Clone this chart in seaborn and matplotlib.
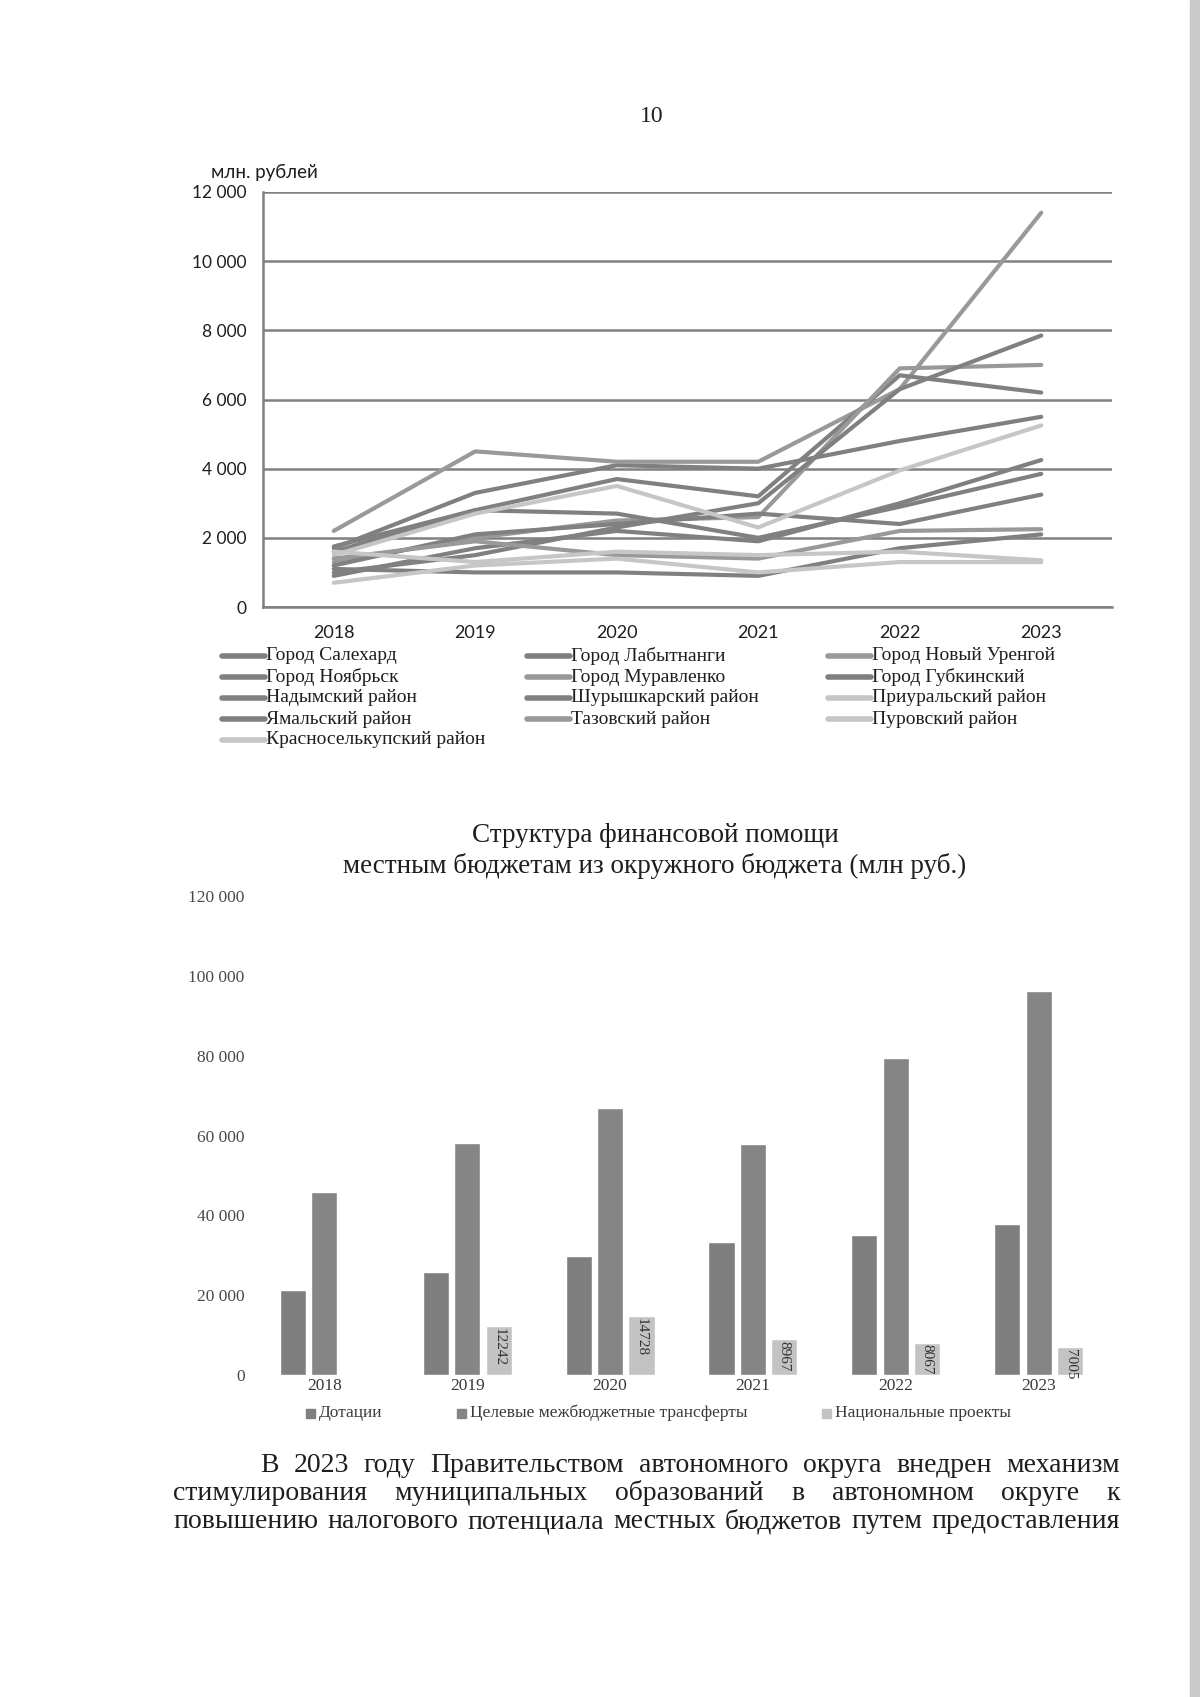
import matplotlib
matplotlib.use('Agg')
import pandas as pd
import seaborn as sns
import matplotlib.pyplot as plt
from matplotlib.lines import Line2D
from matplotlib.patches import Rectangle

W, H = 1200, 1697

# ---- данные: верхний график (млн. рублей) ----
years = ['2018', '2019', '2020', '2021', '2022', '2023']

districts = ['Город Салехард', 'Город Лабытнанги', 'Город Новый Уренгой',
             'Город Ноябрьск', 'Город Муравленко', 'Город Губкинский',
             'Надымский район', 'Шурышкарский район', 'Приуральский район',
             'Ямальский район', 'Тазовский район', 'Пуровский район',
             'Красноселькупский район']

salekhard = [1700, 3300, 4100, 4000, 4800, 5500]
labytnangi = [1100, 1000, 1000, 900, 1700, 2100]
novy_urengoy = [2200, 4500, 4200, 4200, 6300, 11400]
noyabrsk = [1600, 2800, 3700, 3200, 6700, 6200]
muravlenko = [1300, 2000, 2500, 2600, 6900, 7000]
gubkinsky = [1000, 1500, 2300, 3000, 6300, 7850]
nadym = [1750, 2800, 2700, 2000, 2900, 3850]
shuryshkary = [1200, 2100, 2400, 2700, 2400, 3250]
priuralsky = [1500, 2700, 3500, 2300, 3950, 5250]
yamalsky = [900, 1700, 2200, 1900, 3000, 4250]
tazovsky = [1400, 1900, 1500, 1400, 2200, 2250]
purovsky = [1600, 1300, 1600, 1500, 1600, 1350]
krasnoselkup = [700, 1200, 1400, 1000, 1300, 1300]

series = [salekhard, labytnangi, novy_urengoy, noyabrsk, muravlenko, gubkinsky,
          nadym, shuryshkary, priuralsky, yamalsky, tazovsky, purovsky, krasnoselkup]

# ---- данные: нижний график (млн руб.) ----
bar_types = ['Дотации', 'Целевые межбюджетные трансферты', 'Национальные проекты']
dotacii = [21200, 25900, 29700, 33200, 35000, 37900]
celevye = [45900, 58100, 66800, 57800, 79500, 96300]
nac_years = ['2019', '2020', '2021', '2022', '2023']
nac_proekty = [12242, 14728, 8967, 8067, 7005]

paragraph = [
    'В 2023 году Правительством автономного округа внедрен механизм',
    'стимулирования муниципальных образований в автономном округе к',
    'повышению налогового потенциала местных бюджетов путем предоставления',
]

DARK = '#808080'
MID = '#999999'
LIGHT = '#c6c6c6'
line_colors = [DARK, DARK, MID, DARK, MID, DARK, DARK, DARK, LIGHT, DARK, MID, LIGHT, LIGHT]
SERIF = ['Liberation Serif', 'DejaVu Serif']
SANS = ['Lato', 'DejaVu Sans']
TXT = '#1e1e1e'


def fx(x):
    return x / W


def fy(y):
    return 1 - y / H


def fmt(v):
    return f'{int(v):,}'.replace(',', ' ')


sns.set_style('white')
plt.rcParams['font.family'] = SERIF

fig = plt.figure(figsize=(W / 100, H / 100), dpi=100)

# ---- верхний график ----
rows = []
for name, vals in zip(districts, series):
    for y, v in zip(years, vals):
        rows.append({'year': y, 'value': v, 'district': name})
df_lines = pd.DataFrame(rows)
palette = dict(zip(districts, line_colors))

ax1 = fig.add_axes([fx(263), fy(607), (1112 - 263) / W, (607 - 192) / H])
ax1.set_axisbelow(True)
sns.lineplot(data=df_lines, x='year', y='value', hue='district', hue_order=districts,
             palette=palette, linewidth=3.0, legend=False, sort=False, ax=ax1)
ax1.set_xlim(-0.5, 5.5)
ax1.set_ylim(0, 12000)
ax1.set_yticks(range(0, 12001, 2000))
ax1.set_yticklabels([fmt(v) for v in range(0, 12001, 2000)], family=SANS, fontsize=12.5, color=TXT)
ax1.set_xticks(range(6))
ax1.set_xticklabels(years, family=SANS, fontsize=13, color=TXT)
ax1.set_xticks([i - 0.5 for i in range(7)], minor=True)
ax1.tick_params(axis='x', which='major', length=0, pad=13)
ax1.tick_params(axis='x', which='minor', length=5, color=DARK, width=1.2)
ax1.tick_params(axis='y', length=5, color=DARK, width=1.2, pad=7)
ax1.yaxis.grid(True, color=DARK, linewidth=1.8)
ax1.set_xlabel('')
ax1.set_ylabel('')
for s in ['top', 'right']:
    ax1.spines[s].set_visible(False)
for s in ['left', 'bottom']:
    ax1.spines[s].set_color(DARK)
    ax1.spines[s].set_linewidth(1.8)

fig.text(fx(211), fy(172), 'млн. рублей', family=SANS, fontsize=13.5, color=TXT, va='center')
fig.text(fx(652), fy(117), '10', family=SERIF, fontsize=17, color=TXT, ha='center', va='center')

# легенда верхнего графика (построчно, 3 колонки)
col_x = [222, 527, 828]
row_y = [656, 677, 698, 719, 740]
for i, (name, c) in enumerate(zip(districts, line_colors)):
    x0 = col_x[i % 3]
    y0 = row_y[i // 3]
    fig.add_artist(Line2D([fx(x0), fx(x0 + 43)], [fy(y0), fy(y0)], color=c,
                          linewidth=4, transform=fig.transFigure))
    fig.text(fx(x0 + 44), fy(y0), name, family=SERIF, fontsize=14, color=TXT, va='center')

# ---- нижний график ----
brows = []
for y, v in zip(years, dotacii):
    brows.append({'year': y, 'value': v, 'type': bar_types[0]})
for y, v in zip(years, celevye):
    brows.append({'year': y, 'value': v, 'type': bar_types[1]})
for y, v in zip(nac_years, nac_proekty):
    brows.append({'year': y, 'value': v, 'type': bar_types[2]})
df_bars = pd.DataFrame(brows)
bar_colors = {bar_types[0]: '#7f7f7f', bar_types[1]: '#858585', bar_types[2]: '#c3c3c3'}

ax2 = fig.add_axes([fx(253), fy(1375), (1110 - 253) / W, (1375 - 896) / H])
sns.barplot(data=df_bars, x='year', y='value', hue='type', hue_order=bar_types,
            order=years, palette=bar_colors, width=0.66, gap=0.17, legend=False,
            saturation=1, ax=ax2)
ax2.set_xlim(-0.5, 5.5)
ax2.set_ylim(0, 120000)
ax2.set_yticks(range(0, 120001, 20000))
ax2.set_yticklabels([fmt(v) for v in range(0, 120001, 20000)], family=SERIF, fontsize=12.5, color='#4a4a4a')
ax2.set_xticklabels(years, family=SERIF, fontsize=12.5, color='#3a3a3a')
ax2.tick_params(axis='both', length=0)
ax2.tick_params(axis='y', pad=6)
ax2.tick_params(axis='x', pad=2)
ax2.set_xlabel('')
ax2.set_ylabel('')
for s in ax2.spines.values():
    s.set_visible(False)

# подписи национальных проектов (повернуты)
nac_container = ax2.containers[2]
for p, v in zip([p for p in nac_container if p.get_height() > 0], nac_proekty):
    ax2.text(p.get_x() + p.get_width() / 2, p.get_height() - 400, str(v), rotation=-90,
             ha='center', va='top', fontsize=11, family=SERIF, color='#333333')

fig.text(fx(655), fy(836), 'Структура финансовой помощи', family=SERIF, fontsize=19.5,
         color=TXT, ha='center', va='center')
fig.text(fx(655), fy(866), 'местным бюджетам из окружного бюджета (млн руб.)', family=SERIF,
         fontsize=19.5, color=TXT, ha='center', va='center')

# легенда нижнего графика
leg_x = [306, 457, 822]
for x0, t in zip(leg_x, bar_types):
    fig.add_artist(Rectangle((fx(x0), fy(1418)), 9 / W, 9 / H, color=bar_colors[t],
                             transform=fig.transFigure))
    fig.text(fx(x0 + 13), fy(1413), t, family=SERIF, fontsize=12.5, color='#3a3a3a', va='center')

# ---- текст абзаца (выравнивание по ширине) ----
renderer = fig.canvas.get_renderer()
line_starts = [260, 173, 173]
baselines = [1472, 1500, 1528]
for line, x0, yb in zip(paragraph, line_starts, baselines):
    words = line.split(' ')
    texts = [fig.text(0, fy(yb), w, family=SERIF, fontsize=20, color=TXT,
                      ha='left', va='baseline') for w in words]
    widths = [t.get_window_extent(renderer).width for t in texts]
    gap = (1120 - x0 - sum(widths)) / (len(words) - 1)
    x = x0
    for t, w in zip(texts, widths):
        t.set_x(fx(x))
        x += w + gap

# серая полоса скана справа
fig.add_artist(Rectangle((fx(1190), 0), 10 / W, 1, color='#c9c9c9', transform=fig.transFigure))

fig.savefig('out.png', dpi=100)
plt.close(fig)
